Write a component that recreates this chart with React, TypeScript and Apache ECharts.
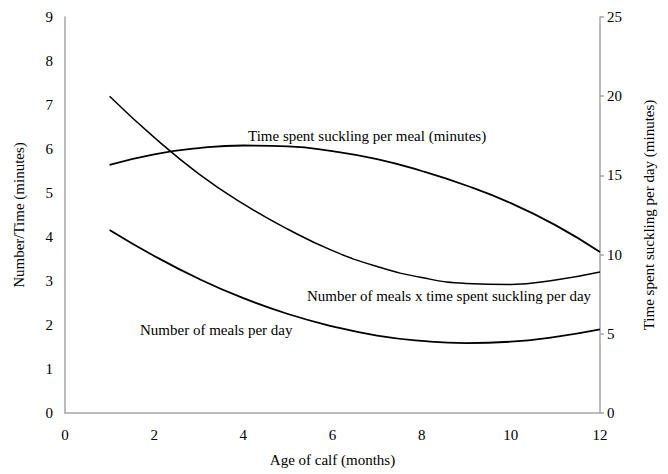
import React, { useEffect, useRef } from "react";
import * as echarts from "echarts";

const months = [1, 2, 3, 4, 5, 6, 7, 8, 9, 10, 11, 12];
const mealsPerDay = [4.16, 3.57, 3.05, 2.61, 2.25, 1.97, 1.76, 1.64, 1.59, 1.62, 1.73, 1.9];
const timePerMeal = [5.64, 5.88, 6.02, 6.08, 6.06, 5.95, 5.77, 5.5, 5.17, 4.77, 4.27, 3.66];
const timePerDay = [20.0, 17.4, 15.1, 13.2, 11.6, 10.25, 9.25, 8.55, 8.18, 8.12, 8.4, 8.9];

const leftTicks = [0, 1, 2, 3, 4, 5, 6, 7, 8, 9];
const rightTicks = [0, 5, 10, 15, 20, 25];

const FONT = "'Liberation Serif', 'Times New Roman', serif";
const FS = 15;

export default function App() {
  const ref = useRef<HTMLDivElement>(null);
  useEffect(() => {
    if (!ref.current) return;
    const chart = echarts.init(ref.current, undefined, { renderer: "svg" });
    const axisLine = { show: true, lineStyle: { color: "#A6A6A6", width: 1.5 } };
    const label = { color: "#000", fontFamily: FONT, fontSize: FS };
    const nameStyle = { color: "#000", fontFamily: FONT, fontSize: FS };
    chart.setOption({
      animation: false,
      textStyle: { fontFamily: FONT },
      grid: { left: 65, right: 68, top: 17, bottom: 61 },
      xAxis: {
        type: "value",
        min: 0,
        max: 12,
        interval: 2,
        name: "Age of calf (months)",
        nameLocation: "middle",
        nameGap: 39,
        nameTextStyle: nameStyle,
        axisLine,
        axisTick: { show: false },
        splitLine: { show: false },
        axisLabel: { ...label, margin: 14 },
      },
      yAxis: [
        {
          type: "value",
          min: leftTicks[0],
          max: leftTicks[leftTicks.length - 1],
          interval: 1,
          position: "left",
          name: "Number/Time (minutes)",
          nameLocation: "middle",
          nameGap: 39,
          nameTextStyle: nameStyle,
          axisLine,
          axisTick: { show: false },
          splitLine: { show: false },
          axisLabel: { ...label, margin: 12 },
        },
        {
          type: "value",
          min: rightTicks[0],
          max: rightTicks[rightTicks.length - 1],
          interval: 5,
          position: "right",
          name: "Time spent suckling per day (minutes)",
          nameLocation: "middle",
          nameGap: 41,
          nameTextStyle: nameStyle,
          axisLine,
          axisTick: { show: true, length: 4, lineStyle: { color: "#A6A6A6", width: 1.5 } },
          splitLine: { show: false },
          axisLabel: { ...label, margin: 7 },
        },
      ],
      series: [
        {
          name: "Number of meals per day",
          type: "line",
          yAxisIndex: 0,
          smooth: true,
          showSymbol: false,
          lineStyle: { color: "#000", width: 1.8 },
          data: months.map((m, i) => [m, mealsPerDay[i]]),
        },
        {
          name: "Time spent suckling per meal (minutes)",
          type: "line",
          yAxisIndex: 0,
          smooth: true,
          showSymbol: false,
          lineStyle: { color: "#000", width: 1.8 },
          data: months.map((m, i) => [m, timePerMeal[i]]),
        },
        {
          name: "Number of meals x time spent suckling per day",
          type: "line",
          yAxisIndex: 1,
          smooth: true,
          showSymbol: false,
          lineStyle: { color: "#000", width: 1.5 },
          data: months.map((m, i) => [m, timePerDay[i]]),
        },
      ],
      graphic: [
        {
          type: "text",
          left: 248,
          top: 128,
          style: { text: "Time spent suckling per meal (minutes)", font: `${FS}px ${FONT}`, fill: "#000" },
        },
        {
          type: "text",
          left: 307,
          top: 288,
          style: { text: "Number of meals x time spent suckling per day", font: `${FS}px ${FONT}`, fill: "#000" },
        },
        {
          type: "text",
          left: 140,
          top: 322,
          style: { text: "Number of meals per day", font: `${FS}px ${FONT}`, fill: "#000" },
        },
      ],
    });
    return () => chart.dispose();
  }, []);
  return (
    <div
      ref={ref}
      style={{ position: "fixed", left: 0, top: 0, width: 668, height: 474, background: "#fff" }}
    />
  );
}
